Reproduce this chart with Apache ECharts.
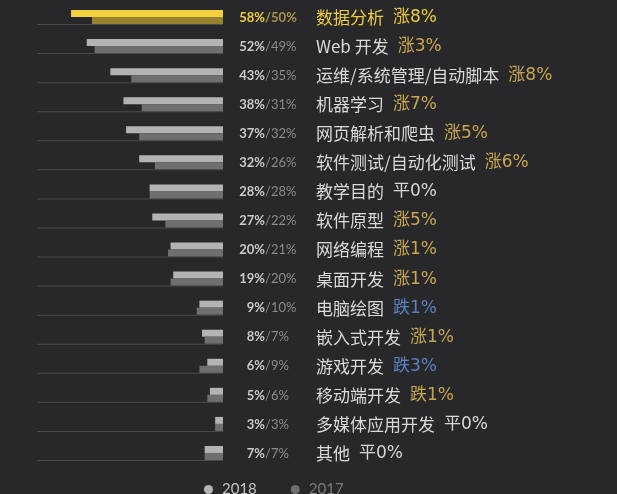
<!DOCTYPE html>
<html style="height: 100%">
  <head>
    <meta charset="utf-8" />
    <script src="https://cdn.jsdelivr.net/npm/echarts@6/dist/echarts.min.js"></script>
  </head>
  <body style="height: 100%; margin: 0; background: #28282b">
    <div id="container" style="width: 617px; height: 494px"></div>
    <script type="text/javascript">
      var categories = [
        "数据分析", "Web 开发", "运维/系统管理/自动脚本", "机器学习",
        "网页解析和爬虫", "软件测试/自动化测试", "教学目的", "软件原型",
        "网络编程", "桌面开发", "电脑绘图", "嵌入式开发",
        "游戏开发", "移动端开发", "多媒体应用开发", "其他"
      ];
      var data2018 = [58, 52, 43, 38, 37, 32, 28, 27, 20, 19, 9, 8, 6, 5, 3, 7];
      var data2017 = [50, 49, 35, 31, 32, 26, 28, 22, 21, 20, 10, 7, 9, 6, 3, 7];
      var changes = [
        "涨8%", "涨3%", "涨8%", "涨7%", "涨5%", "涨6%", "平0%", "涨5%",
        "涨1%", "涨1%", "跌1%", "涨1%", "跌3%", "跌1%", "平0%", "平0%"
      ];
      // colour kind of the change text (the source paints 移动端开发 gold)
      var changeKind = [
        "up", "up", "up", "up", "up", "up", "flat", "up",
        "up", "up", "down", "up", "down", "up", "flat", "flat"
      ];
      var axisMax = 71;
      var track = categories.map(function () { return axisMax; });

      var dom = document.getElementById("container");
      var myChart = echarts.init(dom);

      var yellow = "#f2cd3b";
      var cjk = "'Noto Sans CJK SC', sans-serif";
      var num = "Lato, 'Noto Sans', sans-serif";
      var wide = "'DejaVu Sans', 'Noto Sans CJK SC', sans-serif";

      function bars(values, first) {
        return values.map(function (v, i) {
          return i === 0 ? { value: v, itemStyle: { color: first } } : v;
        });
      }

      // label-only category axis lined up with the bars
      function labelAxis(margin, align, formatter, rich) {
        return {
          type: "category",
          inverse: true,
          position: "right",
          data: categories,
          axisLine: { show: false },
          axisTick: { show: false },
          axisLabel: { margin: margin, align: align, formatter: formatter, rich: rich }
        };
      }

      var option = {
        backgroundColor: "#28282b",
        animation: false,
        grid: { left: 37, right: 394, top: 3, bottom: 26 },
        xAxis: {
          type: "value",
          inverse: true,
          min: 0,
          max: axisMax,
          show: false
        },
        yAxis: [
          labelAxis(93, "left", function (value, i) {
            var s = i === 0 ? "1" : "";
            return "{n" + s + "|" + value + "}{" + changeKind[i] + s + "|" + changes[i] + "}";
          }, {
            n: { fontSize: 17, color: "#dadada", fontFamily: cjk },
            n1: { fontSize: 17, color: yellow, fontFamily: cjk },
            up: { fontSize: 17, color: "#c9a74f", fontFamily: wide, padding: [0, 0, 0, 9] },
            up1: { fontSize: 17, color: "#efc93c", fontFamily: wide, padding: [0, 0, 0, 9] },
            down: { fontSize: 17, color: "#5b80bd", fontFamily: wide, padding: [0, 0, 0, 9] },
            flat: { fontSize: 17, color: "#d6d6d6", fontFamily: wide, padding: [0, 0, 0, 9] }
          }),
          labelAxis(42, "right", function (value, i) {
            return "{a" + (i === 0 ? "1" : "") + "|" + data2018[i] + "%}";
          }, {
            a: { fontSize: 13, fontWeight: "bold", color: "#cacaca", fontFamily: num },
            a1: { fontSize: 13, fontWeight: "bold", color: yellow, fontFamily: num }
          }),
          labelAxis(42, "left", function (value, i) {
            return "{b" + (i === 0 ? "1" : "") + "|/" + data2017[i] + "%}";
          }, {
            b: { fontSize: 13, color: "#8c8c8c", fontFamily: num },
            b1: { fontSize: 13, fontWeight: "bold", color: "#a8944a", fontFamily: num }
          })
        ],
        legend: {
          data: [
            { name: "2018", textStyle: { color: "#c4c4c4" } },
            { name: "2017", textStyle: { color: "#7a7a7a" } }
          ],
          left: 199,
          top: 477,
          icon: "circle",
          itemWidth: 9,
          itemHeight: 9,
          itemGap: 34,
          textStyle: { fontSize: 15, fontFamily: num, padding: [0, 0, 0, 4] }
        },
        series: [
          {
            name: "2018",
            type: "bar",
            barWidth: 7,
            barGap: 0,
            itemStyle: { color: "#b3b3b3" },
            data: bars(data2018, "#f4d03f")
          },
          {
            name: "2017",
            type: "bar",
            barWidth: 7,
            barGap: 0,
            itemStyle: { color: "#6f6f6f" },
            data: bars(data2017, "#978230")
          },
          {
            name: "track",
            type: "bar",
            barWidth: 1,
            barGap: 0,
            z: 1,
            itemStyle: { color: "#4a4a4d" },
            data: track
          }
        ]
      };
      myChart.setOption(option);
    </script>
  </body>
</html>
